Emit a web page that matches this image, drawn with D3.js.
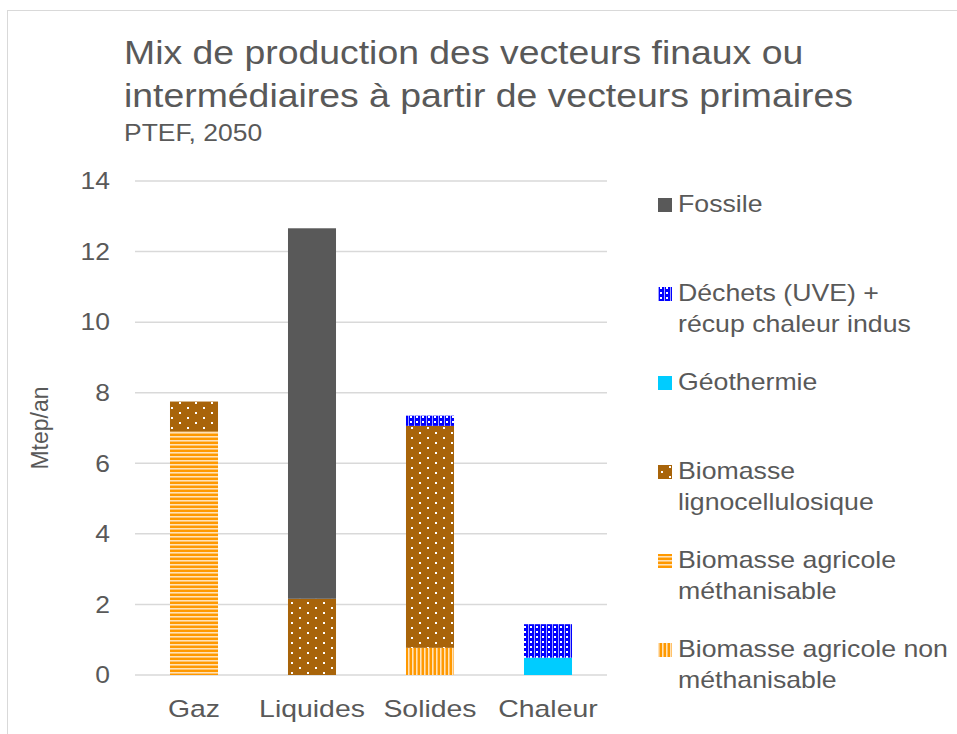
<!DOCTYPE html>
<html>
<head>
<meta charset="utf-8">
<script src="https://cdn.jsdelivr.net/npm/d3@7"></script>
<style>
  body { margin: 0; background: #fff; }
  text { font-family: "Liberation Sans", Arial, sans-serif; fill: #595959; }
</style>
</head>
<body>
<svg id="chart" width="957" height="734"></svg>
<script>
// data (Mtep/an)
const categories = ["Gaz", "Liquides", "Solides", "Chaleur"];
const nonMethanisable = [0, 0, 0.77, 0];
const methanisable = [6.9, 0, 0, 0];
const ligno = [0.85, 2.16, 6.29, 0];
const geothermie = [0, 0, 0, 0.49];
const dechets = [0, 0, 0.29, 0.95];
const fossile = [0, 10.5, 0, 0];
const yTicks = [0, 2, 4, 6, 8, 10, 12, 14];

// stacking order, bottom to top
const seriesKeys = ["nonMeth", "meth", "ligno", "geo", "dechets", "fossile"];
const seriesValues = {
  nonMeth: nonMethanisable, meth: methanisable, ligno: ligno,
  geo: geothermie, dechets: dechets, fossile: fossile
};
// legend, top to bottom
const legendKeys = ["fossile", "dechets", "geo", "ligno", "meth", "nonMeth"];
const legendLabels = {
  fossile: ["Fossile"],
  dechets: ["Déchets (UVE) +", "récup chaleur indus"],
  geo: ["Géothermie"],
  ligno: ["Biomasse", "lignocellulosique"],
  meth: ["Biomasse agricole", "méthanisable"],
  nonMeth: ["Biomasse agricole non", "méthanisable"]
};

const table = categories.map((c, i) => {
  const row = { cat: c };
  seriesKeys.forEach(k => row[k] = seriesValues[k][i]);
  return row;
});

const svg = d3.select("#chart");
const sx = 1.15; // picture text is a bit wider than plain Arial

function place(sel, x, y) {
  return sel.attr("transform", `translate(${x},${y}) scale(${sx},1)`);
}

// patterns
const defs = svg.append("defs");
let p = defs.append("pattern").attr("id", "p-ligno").attr("patternUnits", "userSpaceOnUse")
  .attr("width", 16).attr("height", 10);
p.append("rect").attr("width", 16).attr("height", 10).attr("fill", "#A8640A");
p.append("rect").attr("x", 3).attr("y", 2).attr("width", 2).attr("height", 2).attr("fill", "#fff");
p.append("rect").attr("x", 11).attr("y", 7).attr("width", 2).attr("height", 2).attr("fill", "#fff");

p = defs.append("pattern").attr("id", "p-dechets").attr("patternUnits", "userSpaceOnUse")
  .attr("width", 6).attr("height", 5);
p.append("rect").attr("width", 6).attr("height", 5).attr("fill", "#0000FF");
p.append("rect").attr("x", 0).attr("width", 1).attr("height", 5).attr("fill", "#A0A0FF");
p.append("rect").attr("x", 2).attr("y", 1).attr("width", 2).attr("height", 2).attr("fill", "#fff");

p = defs.append("pattern").attr("id", "p-meth").attr("patternUnits", "userSpaceOnUse")
  .attr("width", 4).attr("height", 4);
p.append("rect").attr("width", 4).attr("height", 4).attr("fill", "#FF9900");
p.append("rect").attr("y", 0).attr("width", 4).attr("height", 1).attr("fill", "#FFE2B8");
p.append("rect").attr("y", 1).attr("width", 4).attr("height", 1).attr("fill", "#FFC26A");

p = defs.append("pattern").attr("id", "p-nonmeth").attr("patternUnits", "userSpaceOnUse")
  .attr("width", 4).attr("height", 4);
p.append("rect").attr("width", 4).attr("height", 4).attr("fill", "#FF9900");
p.append("rect").attr("x", 0).attr("width", 1).attr("height", 4).attr("fill", "#FFE2B8");
p.append("rect").attr("x", 1).attr("width", 1).attr("height", 4).attr("fill", "#FFC26A");

const fills = {
  fossile: "#595959",
  dechets: "url(#p-dechets)",
  geo: "#00CCFF",
  ligno: "url(#p-ligno)",
  meth: "url(#p-meth)",
  nonMeth: "url(#p-nonmeth)"
};

// outer frame
svg.append("rect").attr("x", 7.5).attr("y", 10.5).attr("width", 960).attr("height", 740)
  .attr("fill", "none").attr("stroke", "#d9d9d9");

// title
place(svg.append("text").attr("font-size", 32.5).text("Mix de production des vecteurs finaux ou"), 124, 64);
place(svg.append("text").attr("font-size", 32.5).text("intermédiaires à partir de vecteurs primaires"), 124, 107);
place(svg.append("text").attr("font-size", 23).text("PTEF, 2050"), 124, 141);

// scales
const x = d3.scaleBand().domain(categories).range([135, 607]).paddingInner(0.593).paddingOuter(0.2965);
const y = d3.scaleLinear().domain([0, 14]).range([675, 181]);

// grid
svg.append("g").selectAll("line").data(yTicks).join("line")
  .attr("x1", 135).attr("x2", 607)
  .attr("y1", d => y(d)).attr("y2", d => y(d))
  .attr("stroke", "#d9d9d9").attr("stroke-width", 1.5);

svg.append("g").selectAll("text").data(yTicks).join("text")
  .attr("font-size", 23).attr("text-anchor", "end").attr("dy", "0.36em")
  .text(d => d)
  .each(function (d) { place(d3.select(this), 110, y(d)); });

// y title
svg.append("text").attr("font-size", 23).attr("text-anchor", "middle")
  .attr("transform", `translate(48,${(y(0) + y(14)) / 2}) rotate(-90)`)
  .text("Mtep/an");

// bars
const stacked = d3.stack().keys(seriesKeys)(table);
svg.append("g").selectAll("g").data(stacked).join("g")
  .attr("fill", d => fills[d.key])
  .selectAll("rect").data(d => d.filter(s => s[1] > s[0])).join("rect")
  .attr("x", d => x(d.data.cat))
  .attr("width", x.bandwidth())
  .attr("y", d => y(d[1]))
  .attr("height", d => y(d[0]) - y(d[1]));

// category labels
svg.append("g").selectAll("text").data(categories).join("text")
  .attr("font-size", 24.7).attr("text-anchor", "middle")
  .text(d => d)
  .each(function (d) { place(d3.select(this), x(d) + x.bandwidth() / 2, 717); });

// legend
const lg = svg.append("g").selectAll("g").data(legendKeys).join("g")
  .attr("transform", (d, i) => `translate(658,${212 + i * 89})`);
lg.append("rect").attr("y", -14).attr("width", 14).attr("height", 14)
  .attr("fill", d => fills[d]);
lg.each(function (d) {
  const g = d3.select(this);
  legendLabels[d].forEach((line, j) => {
    place(g.append("text").attr("font-size", 23.2).text(line), 20, j * 30.5);
  });
});
</script>
</body>
</html>
